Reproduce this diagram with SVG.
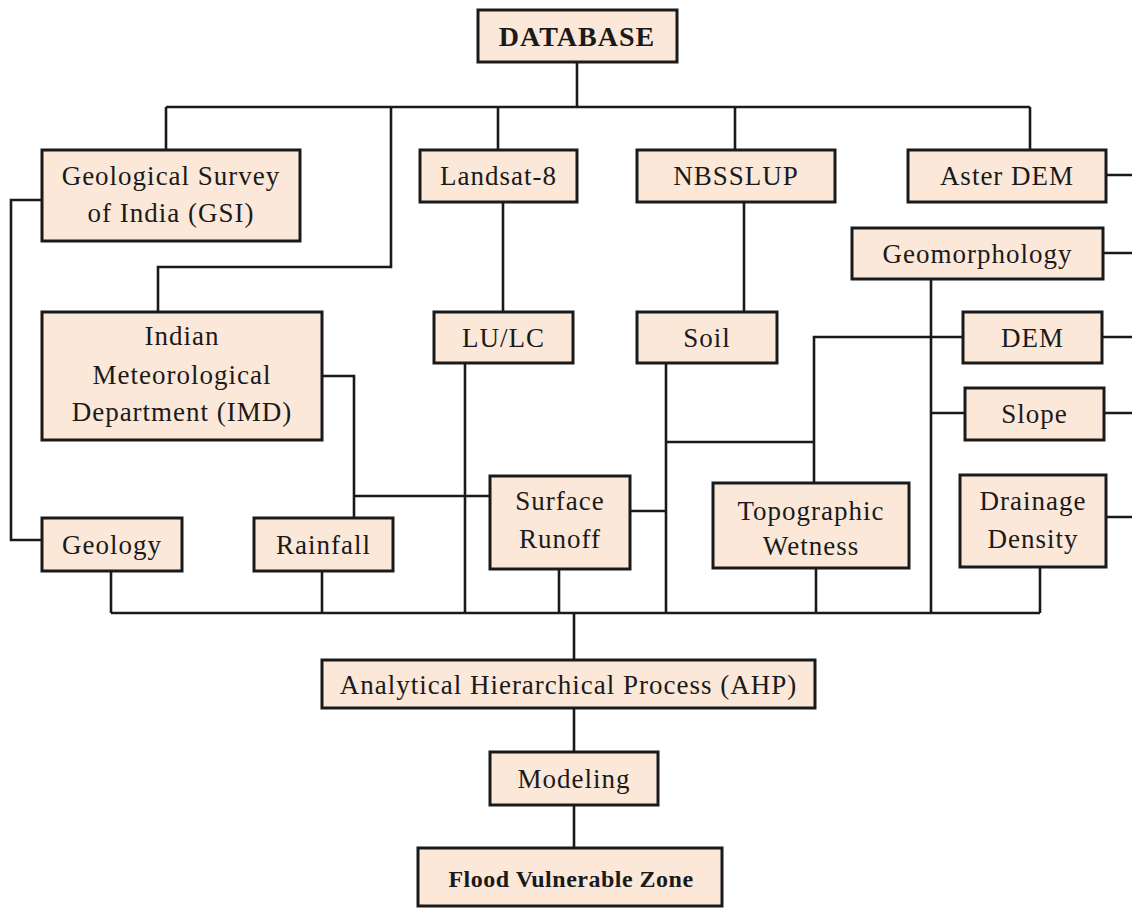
<svg xmlns="http://www.w3.org/2000/svg" width="1132" height="908" viewBox="0 0 1132 908">
<style>
.box{fill:#fbe8d9;stroke:#1a1a1a;stroke-width:3}
.t{font-family:"Liberation Serif","Times New Roman",serif;font-size:27px;letter-spacing:1px;fill:#1a1a1a;text-anchor:middle}
.b{font-weight:bold}
.c{fill:none;stroke:#1a1a1a;stroke-width:2.6}
</style>
<rect width="1132" height="908" fill="#ffffff"/>
<g id="connectors">
<path class="c" d="M577 62V107M166 107H1030M166 107V150M391 107V267H158V312M498 107V150M735 107V150M1030 107V150"/>
<path class="c" d="M503 202V312M744 202V312"/>
<path class="c" d="M42 200H11V540H42"/>
<path class="c" d="M322 376H354V518M354 496H490"/>
<path class="c" d="M465 363V613M630 511H666M666 363V613M666 442H814M814 483V337H963"/>
<path class="c" d="M931 279V613M931 413H965"/>
<path class="c" d="M1106 175H1132M1103 253H1132M1102 337H1132M1104 413H1132M1106 517H1132"/>
<path class="c" d="M111 613H1040M111 571V613M322 571V613M559 569V613M816 568V613M1040 567V613"/>
<path class="c" d="M574 613V660M574 708V752M574 805V848"/>
</g>
<g id="database"><rect class="box" x="478" y="10" width="199" height="52"/><text class="t b" x="577" y="46" style="font-size:28px">DATABASE</text></g>
<g id="gsi"><rect class="box" x="42" y="150" width="258" height="91"/><text class="t" x="171" y="185">Geological Survey</text><text class="t" x="171" y="222">of India (GSI)</text></g>
<g id="landsat"><rect class="box" x="420" y="150" width="157" height="52"/><text class="t" x="498.5" y="185">Landsat-8</text></g>
<g id="nbsslup"><rect class="box" x="637" y="150" width="198" height="52"/><text class="t" x="736" y="185">NBSSLUP</text></g>
<g id="asterdem"><rect class="box" x="908" y="150" width="198" height="52"/><text class="t" x="1007" y="185">Aster DEM</text></g>
<g id="geomorphology"><rect class="box" x="852" y="228" width="251" height="51"/><text class="t" x="977.5" y="263">Geomorphology</text></g>
<g id="imd"><rect class="box" x="42" y="312" width="280" height="128"/><text class="t" x="182" y="345">Indian</text><text class="t" x="182" y="384">Meteorological</text><text class="t" x="182" y="421">Department (IMD)</text></g>
<g id="lulc"><rect class="box" x="434" y="312" width="139" height="51"/><text class="t" x="503.5" y="347">LU/LC</text></g>
<g id="soil"><rect class="box" x="637" y="312" width="140" height="51"/><text class="t" x="707" y="347">Soil</text></g>
<g id="dem"><rect class="box" x="963" y="312" width="139" height="51"/><text class="t" x="1032.5" y="347">DEM</text></g>
<g id="slope"><rect class="box" x="965" y="388" width="139" height="52"/><text class="t" x="1034.5" y="423">Slope</text></g>
<g id="geology"><rect class="box" x="42" y="518" width="140" height="53"/><text class="t" x="112" y="554">Geology</text></g>
<g id="rainfall"><rect class="box" x="254" y="518" width="139" height="53"/><text class="t" x="323.5" y="554">Rainfall</text></g>
<g id="surfacerunoff"><rect class="box" x="490" y="476" width="140" height="93"/><text class="t" x="560" y="510">Surface</text><text class="t" x="560" y="548">Runoff</text></g>
<g id="topographicwetness"><rect class="box" x="713" y="483" width="196" height="85"/><text class="t" x="811" y="520">Topographic</text><text class="t" x="811" y="555">Wetness</text></g>
<g id="drainagedensity"><rect class="box" x="960" y="475" width="146" height="92"/><text class="t" x="1033" y="510">Drainage</text><text class="t" x="1033" y="548">Density</text></g>
<g id="ahp"><rect class="box" x="322" y="660" width="493" height="48"/><text class="t" x="568.5" y="694">Analytical Hierarchical Process (AHP)</text></g>
<g id="modeling"><rect class="box" x="490" y="752" width="168" height="53"/><text class="t" x="574" y="788">Modeling</text></g>
<g id="floodzone"><rect class="box" x="418" y="848" width="304" height="58"/><text class="t b" x="571" y="887" style="font-size:24px;letter-spacing:0.5px">Flood Vulnerable Zone</text></g>
</svg>
